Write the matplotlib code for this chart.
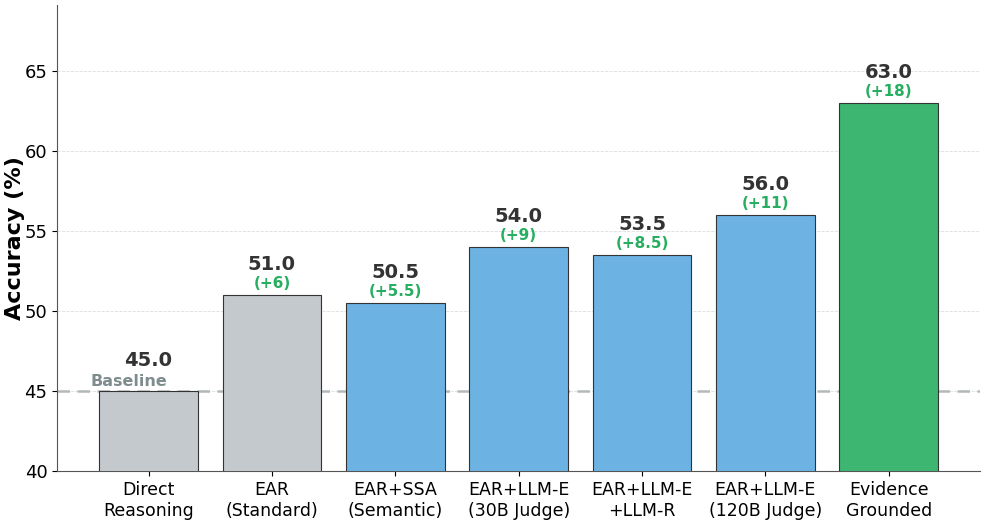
import matplotlib
matplotlib.use("Agg")
import matplotlib.pyplot as plt

methods = ["Direct\nReasoning", "EAR\n(Standard)", "EAR+SSA\n(Semantic)",
           "EAR+LLM-E\n(30B Judge)", "EAR+LLM-E\n+LLM-R", "EAR+LLM-E\n(120B Judge)",
           "Evidence\nGrounded"]
accuracy = [45.0, 51.0, 50.5, 54.0, 53.5, 56.0, 63.0]
gains = [None, "+6", "+5.5", "+9", "+8.5", "+11", "+18"]
baseline = 45.0

bar_colors = ["#c4c9cd", "#c4c9cd", "#6cb3e3", "#6cb3e3", "#6cb3e3", "#6cb3e3", "#3cb670"]

fig = plt.figure(figsize=(9.87, 5.2), dpi=100)
ax = fig.add_axes([0.058, 0.094, 0.935, 0.896])

x = range(len(methods))
bars = ax.bar(x, accuracy, width=0.8, color=bar_colors, edgecolor="#333333",
              linewidth=0.8, zorder=3)

# baseline reference
ax.axhline(baseline, color="#b3b9bb", linestyle=(0, (5, 3)), linewidth=1.8, zorder=2)
ax.text(-0.47, baseline + 0.15, "Baseline", color="#7f8c8d", fontsize=11.5,
        fontweight="bold", ha="left", va="bottom")

for i, (b, v) in enumerate(zip(bars, accuracy)):
    cx = b.get_x() + b.get_width() / 2
    ax.text(cx, v + 1.3, f"{v:.1f}", ha="center", va="bottom",
            fontsize=14, fontweight="bold", color="#333333")
    if gains[i] is not None:
        ax.text(cx, v + 0.25, f"({gains[i]})", ha="center", va="bottom",
                fontsize=11, fontweight="bold", color="#27ae60")

ax.set_ylim(40, 69.1)
ax.set_yticks([40, 45, 50, 55, 60, 65])
ax.set_xticks(list(x))
ax.set_xticklabels(methods, fontsize=12.5)
ax.tick_params(axis="y", labelsize=13)
ax.set_ylabel("Accuracy (%)", fontsize=16, fontweight="bold")
ax.yaxis.set_label_coords(-0.035, 0.5)
ax.yaxis.grid(True, linestyle="--", linewidth=0.6, color="#dddddd", zorder=0)
ax.set_axisbelow(True)
ax.spines["top"].set_visible(False)
ax.spines["right"].set_visible(False)
for s in ["left", "bottom"]:
    ax.spines[s].set_color("#555555")

fig.savefig("out.png", dpi=100)
